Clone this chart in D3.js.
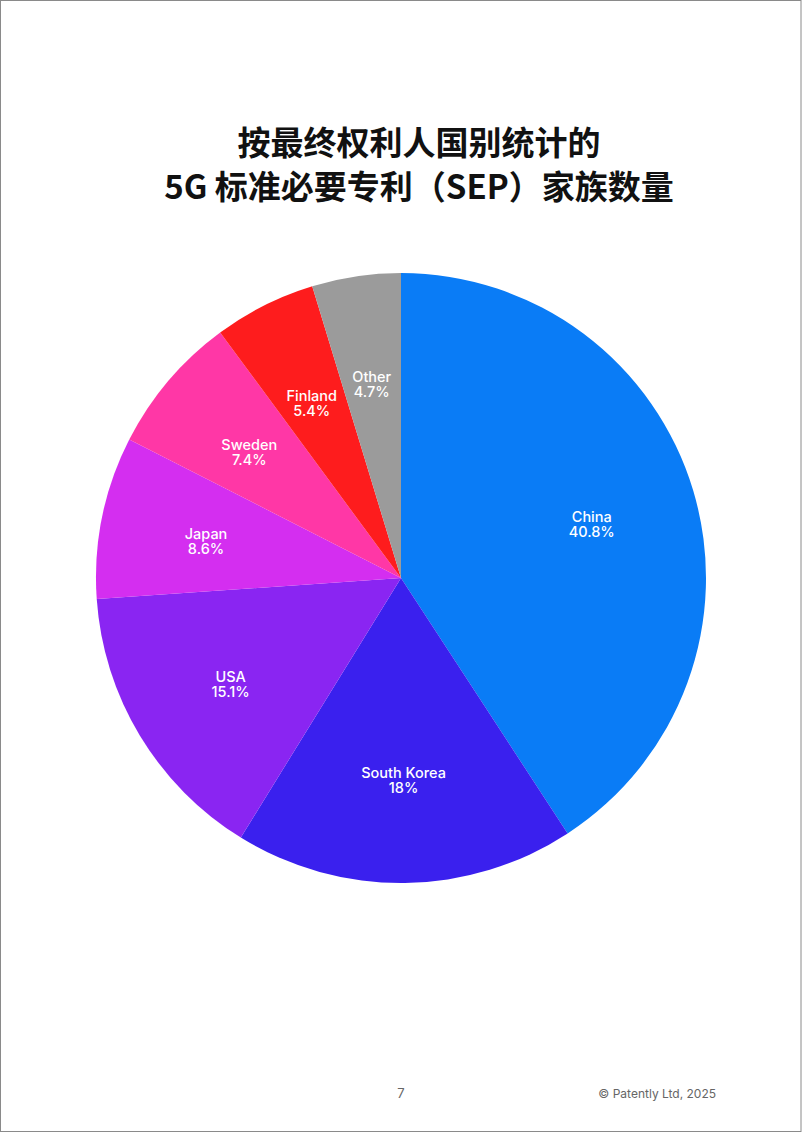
<!DOCTYPE html>
<html><head><meta charset="utf-8">
<script src="https://cdn.jsdelivr.net/npm/d3@7"></script>
<style>
html,body{margin:0;padding:0;background:#fff;}
svg{display:block;}
</style></head>
<body>
<script>
const categories = ["China","South Korea","USA","Japan","Sweden","Finland","Other"];
const values = [40.8,18,15.1,8.6,7.4,5.4,4.7];
const valueLabels = ["40.8%","18%","15.1%","8.6%","7.4%","5.4%","4.7%"];
const colors = ["#0a7cf6","#3a20ee","#8a25f2","#d42ef0","#ff37a6","#fe1c1d","#9b9b9b"];
const titleLines = ["按最终权利人国别统计的","5G 标准必要专利（SEP）家族数量"];

const W = 802, H = 1133;
const svg = d3.select("body").append("svg").attr("width", W).attr("height", H);
svg.append("rect").attr("x",0.5).attr("y",0.5).attr("width",W-1.5).attr("height",H-2)
  .attr("fill","#fff").attr("stroke","#8a8a8a").attr("stroke-width",1);

const cx = 401, cy = 578, R = 305;
const data = categories.map((c,i)=>({cat:c, value:values[i], label:valueLabels[i], color:colors[i]}));
const pie = d3.pie().value(d=>d.value).sort(null);
const arc = d3.arc().innerRadius(0).outerRadius(R);
const g = svg.append("g").attr("transform",`translate(${cx},${cy})`);
const arcs = pie(data);
g.selectAll("path").data(arcs).join("path").attr("d",arc).attr("fill",d=>d.data.color);

const lr = 199;
const lab = g.selectAll("text.lbl").data(arcs).join("text").attr("class","lbl")
  .attr("transform",d=>{const a=(d.startAngle+d.endAngle)/2; return `translate(${lr*Math.sin(a)},${-lr*Math.cos(a)})`;})
  .attr("text-anchor","middle").attr("fill","#fff")
  .style("font-family","Inter, 'Noto Sans', sans-serif").style("font-size","14.5px").style("font-weight","500");
lab.append("tspan").attr("x",0).attr("y",1).text(d=>d.data.cat);
lab.append("tspan").attr("x",0).attr("y",16).text(d=>d.data.label);

svg.selectAll("text.title").data(titleLines).join("text").attr("class","title")
  .attr("x",419).attr("y",(d,i)=>155+i*44).attr("text-anchor","middle")
  .style("font-family","'Noto Sans CJK SC', sans-serif").style("font-weight","700")
  .style("font-size","33px").attr("fill","#111").text(d=>d);

svg.append("text").attr("x",401).attr("y",1098).attr("text-anchor","middle")
  .style("font-family","Inter, sans-serif").style("font-size","13px").attr("fill","#666").text("7");
svg.append("text").attr("x",716).attr("y",1098).attr("text-anchor","end")
  .style("font-family","Inter, sans-serif").style("font-size","12px").attr("fill","#666").text("© Patently Ltd, 2025");
</script>
</body></html>
